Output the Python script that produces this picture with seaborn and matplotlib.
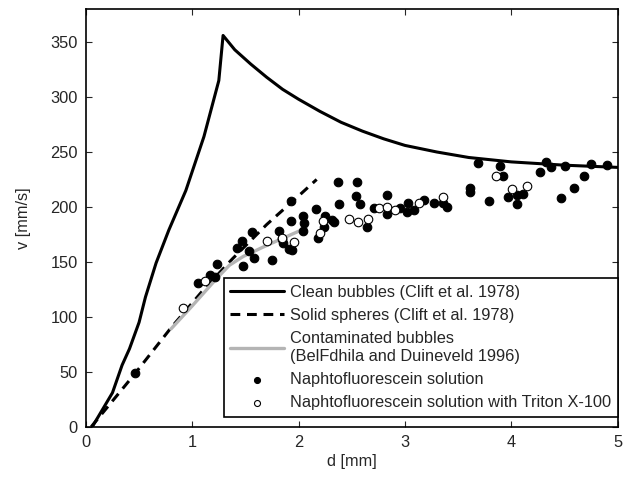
import matplotlib
matplotlib.use("Agg")
import matplotlib.pyplot as plt
import seaborn as sns

# Clean bubbles (Clift et al. 1978)
clean_d = [0.06, 0.25, 0.34, 0.41, 0.50, 0.56, 0.66, 0.78, 0.94, 1.11, 1.25, 1.29,
           1.40, 1.55, 1.70, 1.85, 2.00, 2.20, 2.40, 2.60, 2.80, 3.00, 3.30, 3.60,
           4.00, 4.50, 5.00]
clean_v = [0, 31, 56, 71, 95, 118, 149, 179, 215, 264, 315, 356,
           343, 330, 318, 307, 298, 287, 277, 269, 262, 256, 250, 245,
           241, 238, 236]

# Solid spheres (Clift et al. 1978)
solid_d = [0.05, 0.45, 0.80, 1.10, 1.38, 1.70, 2.00, 2.17]
solid_v = [0, 47, 90, 124, 153, 184, 210, 225]

# Contaminated bubbles (BelFdhila and Duineveld 1996)
cont_d = [0.80, 1.00, 1.23, 1.35, 1.48, 1.70, 1.98, 2.07]
cont_v = [89, 110, 135, 147, 155, 165, 177, 181]

# Naphtofluorescein solution
fill_d = [0.46, 1.05, 1.17, 1.21, 1.23, 1.42, 1.47, 1.56, 1.53, 1.58, 1.48, 1.75, 1.82, 1.84,
          1.85, 1.91, 1.94, 1.93, 1.93, 2.04, 2.05, 2.04, 2.16, 2.25, 2.24, 2.18, 2.31, 2.33,
          2.37, 2.55, 2.38, 2.54, 2.58, 2.64, 2.71, 2.83, 2.83, 2.95, 3.03, 3.09, 3.02, 3.18,
          3.27, 3.36, 3.40, 3.61, 3.61, 3.69, 3.79, 3.89, 3.92, 3.97, 4.05, 4.05, 4.11, 4.27,
          4.33, 4.37, 4.51, 4.47, 4.59, 4.68, 4.75, 4.90]
fill_v = [49, 131, 138, 136, 148, 163, 169, 177, 160, 154, 146, 152, 178, 171,
          167, 162, 161, 205, 187, 192, 185, 178, 198, 192, 182, 172, 188, 186,
          223, 223, 203, 210, 203, 182, 199, 211, 194, 199, 204, 197, 195, 206,
          204, 204, 200, 217, 214, 240, 205, 237, 228, 209, 211, 203, 212, 232,
          241, 236, 237, 208, 217, 228, 239, 238]

# Naphtofluorescein solution with Triton X-100
open_d = [0.91, 1.12, 1.70, 1.84, 1.96, 2.23, 2.20, 2.47, 2.56, 2.65, 2.76, 2.83, 2.91,
          3.13, 3.36, 3.86, 4.01, 4.15]
open_v = [108, 133, 169, 172, 168, 187, 176, 189, 186, 189, 199, 200, 197,
          204, 209, 228, 216, 219]

sns.set_style("ticks")
plt.rcParams['font.family'] = ['Liberation Sans', 'DejaVu Sans']

fig, ax = plt.subplots(figsize=(6.27, 4.79), dpi=100)
fig.subplots_adjust(left=0.137, right=0.985, bottom=0.109, top=0.981)

sns.lineplot(x=clean_d, y=clean_v, sort=False, ax=ax, color='black', linewidth=2.2,
             label='Clean bubbles (Clift et al. 1978)')
sns.lineplot(x=solid_d, y=solid_v, sort=False, ax=ax, color='black', linewidth=2.2,
             linestyle=(0, (3.2, 2.2)), label='Solid spheres (Clift et al. 1978)')
sns.lineplot(x=cont_d, y=cont_v, sort=False, ax=ax, color='#b4b4b4', linewidth=2.4,
             label='Contaminated bubbles\n(BelFdhila and Duineveld 1996)')
sns.scatterplot(x=fill_d, y=fill_v, ax=ax, color='black', edgecolor='black', s=38,
                linewidth=0.8, label='Naphtofluorescein solution', zorder=3)
sns.scatterplot(x=open_d, y=open_v, ax=ax, color='white', edgecolor='black', s=38,
                linewidth=0.8, label='Naphtofluorescein solution with Triton X-100', zorder=4)

ax.set_xlim(0, 5)
ax.set_ylim(0, 380)
ax.set_xticks([0, 1, 2, 3, 4, 5])
ax.set_yticks([0, 50, 100, 150, 200, 250, 300, 350])
ax.tick_params(direction='in', top=True, right=True, labelsize=11.8, length=4, width=0.8, pad=6)
for s in ax.spines.values():
    s.set_linewidth(1.2)
    s.set_color('black')
ax.set_xlabel('d [mm]', fontsize=11.8, labelpad=3)
ax.set_ylabel('v [mm/s]', fontsize=11.8, labelpad=14)

leg = ax.legend(loc='lower right', bbox_to_anchor=(1.0, 0.024), fontsize=11.8, frameon=True,
                fancybox=False, edgecolor='black', framealpha=1, handlelength=3.3,
                handletextpad=0.35, borderaxespad=0, borderpad=0.4, labelspacing=0.5,
                markerscale=0.7)
leg.get_frame().set_linewidth(1.2)

fig.savefig('out.png', dpi=100)
